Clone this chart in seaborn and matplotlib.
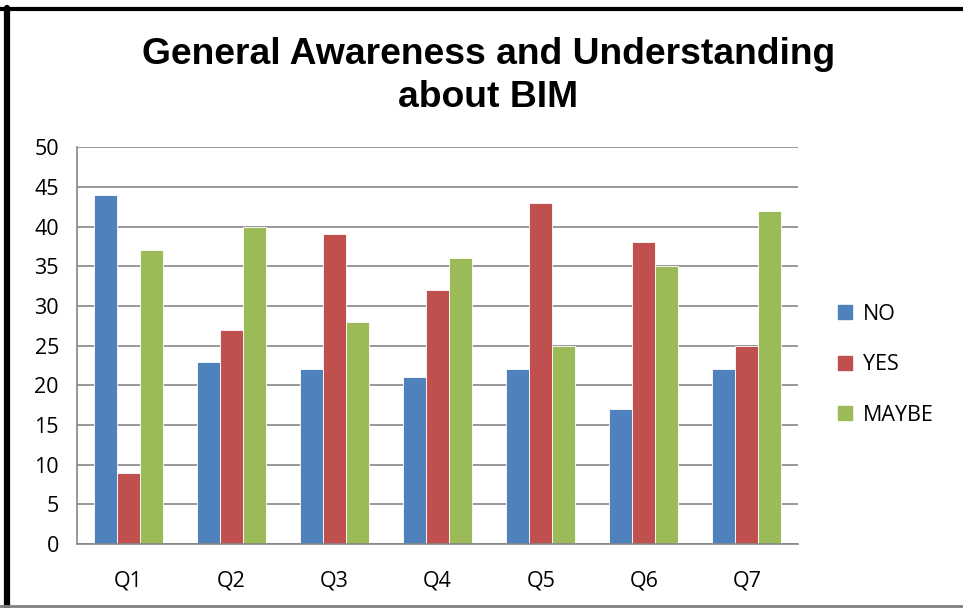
import matplotlib
matplotlib.use("Agg")
import matplotlib.pyplot as plt
from matplotlib.lines import Line2D
import seaborn as sns
import pandas as pd
import numpy as np

questions = ["Q1", "Q2", "Q3", "Q4", "Q5", "Q6", "Q7"]
no_counts = [44, 23, 22, 21, 22, 17, 22]
yes_counts = [9, 27, 39, 32, 43, 38, 25]
maybe_counts = [37, 40, 28, 36, 25, 35, 42]
answers = ["NO", "YES", "MAYBE"]
colors = ["#4F81BD", "#C0504D", "#9BBB59"]

df = pd.DataFrame({
    "Question": questions * 3,
    "Answer": ["NO"] * 7 + ["YES"] * 7 + ["MAYBE"] * 7,
    "Count": no_counts + yes_counts + maybe_counts,
})

sns.set_theme(style="white")
plt.rcParams["font.family"] = ["Open Sans", "DejaVu Sans"]
plt.rcParams["text.color"] = "black"
plt.rcParams["xtick.color"] = "black"
plt.rcParams["ytick.color"] = "black"

fig = plt.figure(figsize=(9.63, 6.08), dpi=100)
ax = fig.add_axes([0.080, 0.105, 0.749, 0.653])

sns.barplot(data=df, x="Question", y="Count", hue="Answer",
            hue_order=answers, palette=colors, ax=ax,
            width=3 / 4.5, saturation=1, edgecolor="white", linewidth=0.6,
            errorbar=None, legend=False)

ax.set_xlim(-0.5, 6.5)
ax.set_ylim(0, 50)
ax.set_yticks(np.arange(0, 51, 5))
ax.yaxis.grid(True, color="#868686", linewidth=1.2)
ax.set_axisbelow(True)
ax.set_xlabel("")
ax.set_ylabel("")

for side in ["top", "right"]:
    ax.spines[side].set_visible(False)
for side in ["left", "bottom"]:
    ax.spines[side].set_color("#868686")
    ax.spines[side].set_linewidth(1.2)

# category ticks sit on the boundaries between groups
ax.set_xticks(np.arange(-0.5, 7, 1), minor=False)
ax.set_xticklabels([])
ax.set_xticks(np.arange(0, 7), minor=True)
ax.set_xticklabels(questions, minor=True)
ax.tick_params(axis="x", which="major", direction="out", length=8,
               width=1.2, color="#868686")
ax.tick_params(axis="x", which="minor", length=0, pad=19, labelsize=15.5,
               labelcolor="black")
ax.tick_params(axis="y", direction="out", length=7, width=1.2,
               color="#868686", labelsize=15.5, pad=6, labelcolor="black")

handles = [Line2D([], [], marker="s", linestyle="", markersize=10,
                  markerfacecolor=c, markeredgecolor=c) for c in colors]
leg = fig.legend(handles, answers, loc="center left",
                 bbox_to_anchor=(0.860, 0.400), frameon=False, fontsize=15.5,
                 handlelength=0.8, handletextpad=0.4, labelspacing=1.36,
                 borderaxespad=0)
for t in leg.get_texts():
    t.set_color("black")

fig.text(0.507, 0.875, "General Awareness and Understanding\nabout BIM",
         ha="center", va="center", fontsize=26.8, fontweight="bold",
         color="black", family=["Liberation Sans", "DejaVu Sans"],
         linespacing=1.33)

# outer chart frame
fig.add_artist(Line2D([0.0073, 0.0073], [0.0, 0.987], transform=fig.transFigure,
                      color="black", linewidth=4.5))
fig.add_artist(Line2D([0.0, 1.0], [0.9855, 0.9855], transform=fig.transFigure,
                      color="black", linewidth=3))
fig.add_artist(Line2D([0.0, 1.0], [0.003, 0.003], transform=fig.transFigure,
                      color="#808080", linewidth=2))

fig.savefig("out.png", dpi=100, facecolor="white")
